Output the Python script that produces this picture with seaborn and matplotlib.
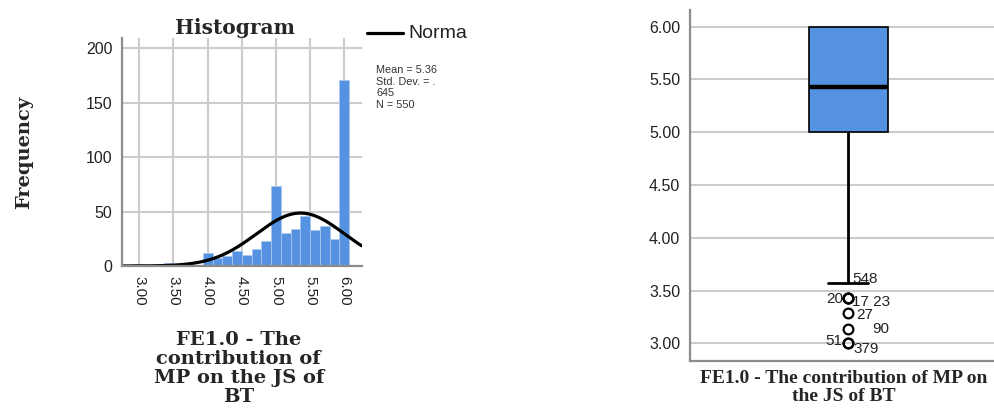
import numpy as np
import pandas as pd
import seaborn as sns
import matplotlib
matplotlib.use("Agg")
import matplotlib.pyplot as plt
from matplotlib.lines import Line2D

# Scale scores (mean of seven 1-6 items) and number of respondents at each score
score_levels = [3.00, 3.14, 3.29, 3.43, 3.57, 3.71, 3.86, 4.00, 4.14, 4.29, 4.43,
                4.57, 4.71, 4.86, 5.00, 5.14, 5.29, 5.43, 5.57, 5.71, 5.86, 6.00]
respondents = [2, 1, 1, 3, 1, 1, 1, 12, 7, 9, 14,
               10, 16, 23, 73, 30, 34, 46, 33, 37, 25, 171]

# Summary statistics reported next to the histogram
stat_mean = 5.36
stat_sd = 0.645
stat_n = 550

# Case numbers flagged on the box plot, with the score they sit at
case_labels = ["548", "20", "17 23", "27", "90", "51", "379"]
case_scores = [3.61, 3.42, 3.39, 3.265, 3.135, 3.02, 2.95]
case_side = ["left", "right", "left", "left", "left", "right", "left"]
case_dx = [0.012, -0.018, 0.012, 0.025, 0.08, -0.018, 0.018]

x_ticks = [3.00, 3.50, 4.00, 4.50, 5.00, 5.50, 6.00]
hist_yticks = [0, 50, 100, 150, 200]
box_yticks = [3.00, 3.50, 4.00, 4.50, 5.00, 5.50, 6.00]

scores = pd.Series(np.repeat(score_levels, respondents), name="FE1.0")

sns.set_style("white")
plt.rcParams["font.family"] = ["Liberation Sans", "DejaVu Sans"]
SERIF = ["DejaVu Serif", "Liberation Serif"]
SERIF_NARROW = ["Liberation Serif", "DejaVu Serif"]

BLUE = "#5593e2"
GRID = "#cccccc"
SPINE = "#8c8c8c"

fig = plt.figure(figsize=(9.95, 4.19), dpi=100)

# ---------------- Histogram ----------------
ax1 = fig.add_axes([0.1229, 0.3652, 0.2406, 0.5434])
bin_edges = np.arange(20.5, 43.0, 1.0) / 7.0
sns.histplot(x=scores, bins=bin_edges, ax=ax1, color=BLUE, alpha=1,
             edgecolor="#a9c6ee", linewidth=0.6)

x_curve = np.linspace(2.75, 6.256, 300)
bin_w = 1.0 / 7.0
y_curve = stat_n * bin_w * np.exp(-0.5 * ((x_curve - stat_mean) / stat_sd) ** 2) / (stat_sd * np.sqrt(2 * np.pi))
sns.lineplot(x=x_curve, y=y_curve, ax=ax1, color="black", linewidth=2.3)

ax1.set_xlim(2.75, 6.256)
ax1.set_ylim(0, 209)
ax1.set_xticks(x_ticks)
ax1.set_xticklabels([f"{t:.2f}" for t in x_ticks], rotation=-90, fontsize=11, color="#222222")
ax1.set_yticks(hist_yticks)
ax1.set_yticklabels([str(t) for t in hist_yticks], fontsize=11.5, color="#222222")
ax1.tick_params(length=0, pad=7)
ax1.set_axisbelow(True)
ax1.grid(True, color=GRID, linewidth=1.5)
for s in ["top", "right"]:
    ax1.spines[s].set_visible(False)
for s in ["left", "bottom"]:
    ax1.spines[s].set_color(SPINE)
    ax1.spines[s].set_linewidth(1.6)
ax1.set_xlabel("")
ax1.set_ylabel("")

fig.text(0.236, 0.933, "Histogram", ha="center", va="center", fontsize=14.5,
         fontweight="bold", family=SERIF)
fig.text(0.024, 0.637, "Frequency", ha="center", va="center", rotation=90,
         fontsize=14, fontweight="bold", family=SERIF)
fig.text(0.240, 0.211, "FE1.0 - The\ncontribution of\nMP on the JS of\nBT",
         ha="center", va="top", fontsize=14, fontweight="bold", family=SERIF,
         linespacing=1.08)

# legend line and label
fig.add_artist(Line2D([0.3685, 0.4053], [0.9205, 0.9205], color="black",
                      linewidth=2.3, transform=fig.transFigure))
fig.text(0.410, 0.921, "Norma", ha="left", va="center", fontsize=14, color="#222222")
fig.text(0.378, 0.845,
         f"Mean = {stat_mean:.2f}\nStd. Dev. = .\n{int(round(stat_sd * 1000))}\nN = {stat_n}",
         ha="left", va="top", fontsize=7.8, color="#333333", linespacing=1.2)

# ---------------- Box plot ----------------
ax2 = fig.add_axes([0.6935, 0.1384, 0.3065, 0.8377])
sns.boxplot(y=scores, ax=ax2, width=0.26, color=BLUE, saturation=1,
            linecolor="black", linewidth=1.2, whis=1.5,
            medianprops=dict(color="black", linewidth=3.2),
            whiskerprops=dict(color="black", linewidth=2.0),
            capprops=dict(color="black", linewidth=2.0),
            flierprops=dict(marker="o", markerfacecolor="none",
                            markeredgecolor="black", markeredgewidth=1.6,
                            markersize=7))
# the upper whisker collapses onto the box top, so its cap is not shown
top = scores.max()
for ln in ax2.lines:
    yd = np.asarray(ln.get_ydata(), dtype=float)
    xd = np.asarray(ln.get_xdata(), dtype=float)
    if len(yd) == 2 and np.allclose(yd, top) and abs(xd[1] - xd[0]) < 0.2:
        ln.set_visible(False)

ax2.set_xlim(-0.519, 0.481)
ax2.set_ylim(2.832, 6.158)
ax2.set_yticks(box_yticks)
ax2.set_yticklabels([f"{t:.2f}" for t in box_yticks], fontsize=11.5, color="#222222")
ax2.set_xticks([])
ax2.tick_params(length=0, pad=7)
ax2.set_axisbelow(True)
ax2.yaxis.grid(True, color=GRID, linewidth=1.5)
for s in ["top", "right"]:
    ax2.spines[s].set_visible(False)
for s in ["left", "bottom"]:
    ax2.spines[s].set_color(SPINE)
    ax2.spines[s].set_linewidth(1.6)
ax2.set_xlabel("")
ax2.set_ylabel("")

for lab, yv, side, dx in zip(case_labels, case_scores, case_side, case_dx):
    ax2.text(dx, yv, lab, ha=side, va="center", fontsize=11, color="#222222")

fig.text(0.848, 0.117, "FE1.0 - The contribution of MP on\nthe JS of BT",
         ha="center", va="top", fontsize=14, fontweight="bold", family=SERIF_NARROW,
         linespacing=1.1)

fig.savefig("out.png", dpi=100, facecolor="white")
